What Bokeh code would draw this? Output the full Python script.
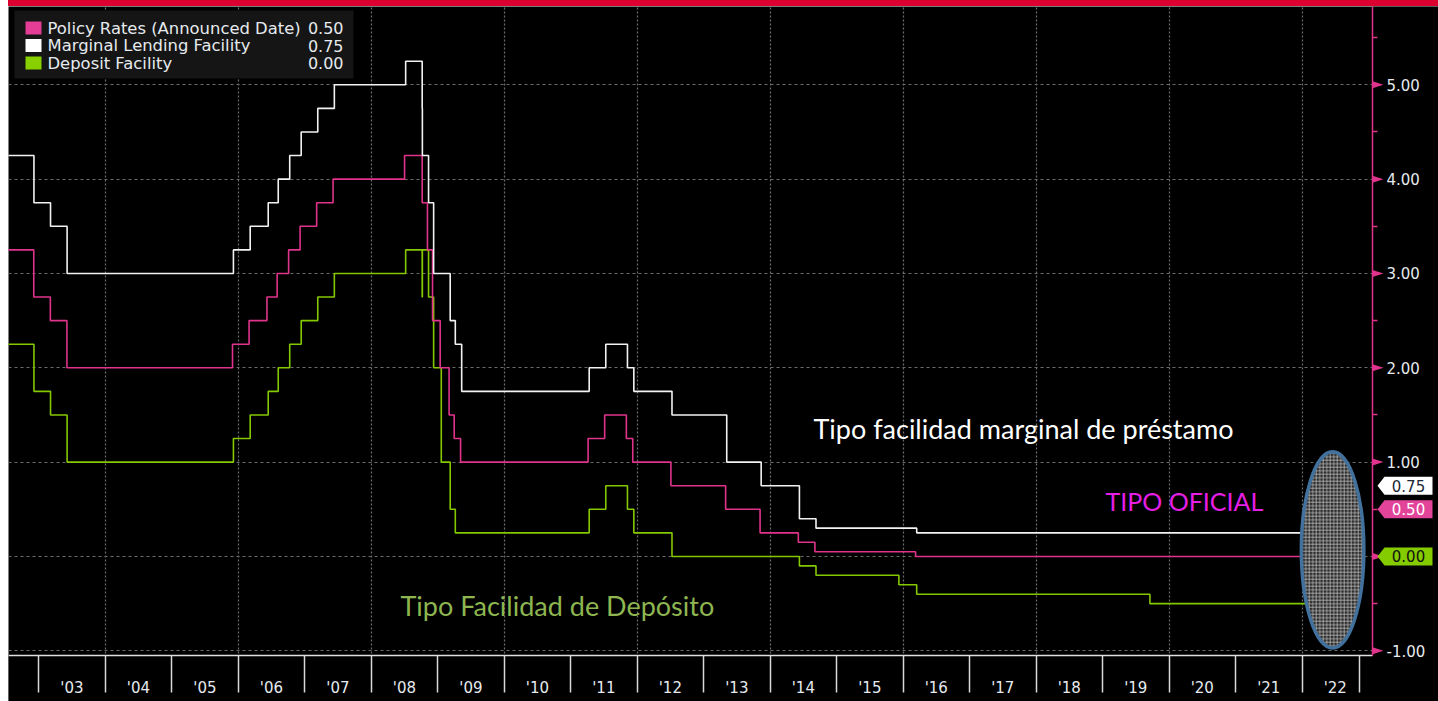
import numpy as np
import pandas as pd
from bokeh.plotting import figure
from bokeh.models import (Range1d, FixedTicker, Label, PolyAnnotation, BoxAnnotation,
                          NumeralTickFormatter, Div)
from bokeh.layouts import column
from bokeh.embed import file_html
from bokeh.resources import INLINE

# ---------------- data (ECB rates, %) ----------------
policy_dates = ["2001-11-08", "2002-12-05", "2003-03-06", "2003-06-05", "2005-12-01",
                "2006-03-02", "2006-06-08", "2006-08-03", "2006-10-05", "2006-12-07",
                "2007-03-08", "2007-06-06", "2008-07-03", "2008-10-08", "2008-11-06",
                "2008-12-04", "2009-01-15", "2009-03-05", "2009-04-02", "2009-05-07",
                "2011-04-07", "2011-07-07", "2011-11-03", "2011-12-08", "2012-07-05",
                "2013-05-02", "2013-11-07", "2014-06-05", "2014-09-04", "2016-03-10",
                "2022-07-21", "2022-10-14"]
policy_rates = [3.25, 2.75, 2.50, 2.00, 2.25, 2.50, 2.75, 3.00, 3.25, 3.50,
                3.75, 4.00, 4.25, 3.75, 3.25, 2.50, 2.00, 1.50, 1.25, 1.00,
                1.25, 1.50, 1.25, 1.00, 0.75, 0.50, 0.25, 0.15, 0.05, 0.00,
                0.50, 0.50]

mlf_dates = ["2001-11-09", "2002-12-06", "2003-03-07", "2003-06-06", "2005-12-06",
             "2006-03-08", "2006-06-15", "2006-08-09", "2006-10-11", "2006-12-13",
             "2007-03-14", "2007-06-13", "2008-07-09", "2008-10-08", "2008-10-09",
             "2008-11-12", "2008-12-10", "2009-03-11", "2009-04-08", "2009-05-13",
             "2011-04-13", "2011-07-13", "2011-11-09", "2011-12-14", "2012-07-11",
             "2013-05-08", "2013-11-13", "2014-06-11", "2014-09-10", "2016-03-16",
             "2022-07-27", "2022-10-14"]
mlf_rates = [4.25, 3.75, 3.50, 3.00, 3.25, 3.50, 3.75, 4.00, 4.25, 4.50,
             4.75, 5.00, 5.25, 4.75, 4.25, 3.75, 3.00, 2.50, 2.25, 1.75,
             2.00, 2.25, 2.00, 1.75, 1.50, 1.00, 0.75, 0.40, 0.30, 0.25,
             0.75, 0.75]

df_dates = ["2001-11-09", "2002-12-06", "2003-03-07", "2003-06-06", "2005-12-06",
            "2006-03-08", "2006-06-15", "2006-08-09", "2006-10-11", "2006-12-13",
            "2007-03-14", "2007-06-13", "2008-07-09", "2008-10-08", "2008-10-09",
            "2008-11-12", "2008-12-10", "2009-01-21", "2009-03-11", "2009-04-08",
            "2011-04-13", "2011-07-13", "2011-11-09", "2011-12-14", "2012-07-11",
            "2014-06-11", "2014-09-10", "2015-12-09", "2016-03-16", "2019-09-18",
            "2022-07-27", "2022-10-14"]
df_rates = [2.25, 1.75, 1.50, 1.00, 1.25, 1.50, 1.75, 2.00, 2.25, 2.50,
            2.75, 3.00, 3.25, 2.75, 3.25, 2.75, 2.00, 1.00, 0.50, 0.25,
            0.50, 0.75, 0.50, 0.25, 0.00, -0.10, -0.20, -0.30, -0.40, -0.50,
            0.00, 0.00]

series_names = ["Policy Rates (Announced Date)", "Marginal Lending Facility", "Deposit Facility"]
year_starts = list(range(2003, 2023))
year_labels = ["'03", "'04", "'05", "'06", "'07", "'08", "'09", "'10", "'11", "'12",
               "'13", "'14", "'15", "'16", "'17", "'18", "'19", "'20", "'21", "'22"]
chart_end = "2022-11-14"
y_ticks = [-1, 0, 1, 2, 3, 4, 5]

annot_marginal = "Tipo facilidad marginal de préstamo"
annot_oficial = "TIPO OFICIAL"
annot_deposito = "Tipo Facilidad de Depósito"

# ---------------- styles / layout ----------------
PINK = "#e0338c"
WHITE = "#f2f2f2"
GREEN = "#84c800"
TXT = "#e6eaee"
FONT = "DejaVu Sans"

LEFT_PAD, BAR = 8, 6
W, H = 1430, 695
RIGHT, BOTTOM = 66, 46           # room for the right scale and the year band
FW, FH = W - RIGHT, H - BOTTOM   # plotting area
X0, X1 = 2002.546, 2023.06
Y0, Y1 = -1.05, 5.83
XPP = (X1 - X0) / FW
YPP = (Y1 - Y0) / FH
XR = X0 + W * XPP                # canvas right edge in data units
YB = Y0 - BOTTOM * YPP           # canvas bottom edge in data units


def fx(px):
    """page x pixel -> data x"""
    return X0 + (px - LEFT_PAD) * XPP


def fy(py):
    """page y pixel -> data y"""
    return Y1 - (py - BAR) * YPP


def frac_year(dates):
    d = pd.DatetimeIndex(pd.to_datetime(dates))
    nd = np.where(d.is_leap_year, 366, 365)
    return (d.year.to_numpy() + (d.dayofyear.to_numpy() - 1) / nd).tolist()


px_policy = frac_year(policy_dates)
px_mlf = frac_year(mlf_dates)
px_df = frac_year(df_dates)
px_end = frac_year([chart_end])[0]

p = figure(width=W, height=H, x_range=Range1d(X0, XR), y_range=Range1d(YB, Y1),
           y_axis_location="right", output_backend="svg", toolbar_location=None,
           background_fill_color="black", border_fill_color="black",
           min_border=0, min_border_left=0, min_border_top=0, min_border_right=0,
           min_border_bottom=0, outline_line_color=None)

# grids
p.xgrid.ticker = FixedTicker(ticks=[y for y in year_starts if y % 2 == 0])
p.xgrid.grid_line_color = "#6e6e6e"
p.xgrid.grid_line_dash = "2 2"
p.xgrid.grid_line_width = 1.2
p.ygrid.ticker = FixedTicker(ticks=y_ticks)
p.ygrid.grid_line_color = "#6a6a6a"
p.ygrid.grid_line_dash = "3 3"
p.ygrid.grid_line_width = 1.2

# black bands for the scale area and the year band (hide grid lines there)
p.add_layout(BoxAnnotation(left=X1, fill_color="black", fill_alpha=1, line_color=None, level="underlay"))
p.add_layout(BoxAnnotation(top=Y0, fill_color="black", fill_alpha=1, line_color=None, level="underlay"))

# bottom axis: separators at year starts (minor ticks), labels at mid-year
mids = [y + 0.5 for y in year_starts]
xa = p.xaxis[0]
xa.fixed_location = Y0
xa.bounds = (X0, X1)
xa.ticker = FixedTicker(ticks=mids, minor_ticks=year_starts + [px_end])
xa.major_label_overrides = {m: lab for m, lab in zip(mids, year_labels)}
xa.axis_line_color = "#e0e0e0"
xa.axis_line_width = 1.5
xa.major_tick_out = 0
xa.major_tick_in = 0
xa.minor_tick_out = 37
xa.minor_tick_in = 0
xa.minor_tick_line_color = "#d8d8d8"
xa.minor_tick_line_width = 1.5
xa.major_label_standoff = -14
xa.major_label_text_color = TXT
xa.major_label_text_font = FONT
xa.major_label_text_font_size = "15px"

# right axis
ya = p.yaxis[0]
ya.fixed_location = X1
ya.bounds = (Y0, Y1)
ya.ticker = FixedTicker(ticks=y_ticks, minor_ticks=[t + 0.5 for t in y_ticks])
ya.formatter = NumeralTickFormatter(format="0.00")
ya.axis_line_color = PINK
ya.axis_line_width = 1.5
ya.major_tick_out = 0
ya.major_tick_in = 0
ya.minor_tick_out = 5
ya.minor_tick_in = 0
ya.minor_tick_line_color = PINK
ya.minor_tick_line_width = 1.5
ya.major_label_standoff = 9
ya.major_label_text_color = TXT
ya.major_label_text_font = FONT
ya.major_label_text_font_size = "15px"

# tick triangles on right axis
for t in y_ticks:
    p.add_layout(PolyAnnotation(xs=[X1, X1 + 11 * XPP, X1], ys=[t + 3.5 * YPP, t, t - 3.5 * YPP],
                                fill_color=PINK, fill_alpha=1, line_color=None))

# series
p.step(px_df, df_rates, mode="after", line_color=GREEN, line_width=1.6)
p.step(px_policy, policy_rates, mode="after", line_color=PINK, line_width=1.6)
p.step(px_mlf, mlf_rates, mode="after", line_color=WHITE, line_width=1.6)

# highlight ellipse over 2022
p.ellipse(x=[2022.46], y=[0.07], width=[0.94], height=[2.08],
          fill_color="#2c2c2c", hatch_pattern="+", hatch_color="#c8c8c8",
          hatch_scale=3.5, hatch_weight=0.7, line_color="#41719c", line_width=3.5)

# annotations
p.add_layout(Label(x=fx(813), y=fy(428), text=annot_marginal, text_color="#ffffff",
                   text_font="Lato", text_font_size="27px", text_baseline="middle"))
p.add_layout(Label(x=fx(1105), y=fy(500), text=annot_oficial, text_color="#e61ee6",
                   text_font="Lato", text_font_size="25px", text_baseline="middle"))
p.add_layout(Label(x=fx(400), y=fy(605), text=annot_deposito, text_color="#8db650",
                   text_font="Lato", text_font_size="27px", text_baseline="middle"))

# last-value tags on right axis
tags = [(mlf_rates[-1], "#ffffff", "#1c2836"),
        (policy_rates[-1], "#e2449a", "#ffffff"),
        (df_rates[-1], "#84cc00", "#111111")]
for v, bg, fg in tags:
    p.add_layout(PolyAnnotation(
        xs=[X1 + 5 * XPP, X1 + 12 * XPP, X1 + 60 * XPP, X1 + 60 * XPP, X1 + 12 * XPP],
        ys=[v, v + 9 * YPP, v + 9 * YPP, v - 9 * YPP, v - 9 * YPP],
        fill_color=bg, fill_alpha=1, line_color=None))
    p.add_layout(Label(x=X1 + 36 * XPP, y=v, text=f"{v:.2f}", text_color=fg,
                       text_font=FONT, text_font_size="15px",
                       text_align="center", text_baseline="middle"))

# legend panel (top-left): swatch, series name, last value
p.add_layout(BoxAnnotation(left=fx(14), right=fx(353), top=fy(10), bottom=fy(78),
                           fill_color="#151515", fill_alpha=1, line_color=None))
sw_colors = ["#e43d96", "#ffffff", "#88d000"]
last_vals = [policy_rates[-1], mlf_rates[-1], df_rates[-1]]
for i, (name, c, v) in enumerate(zip(series_names, sw_colors, last_vals)):
    cy = 27.5 + 17.5 * i
    p.add_layout(BoxAnnotation(left=fx(25), right=fx(41), top=fy(cy - 6.5), bottom=fy(cy + 6.5),
                               fill_color=c, fill_alpha=1, line_color=None))
    p.add_layout(Label(x=fx(47), y=fy(cy), text=name, text_color=TXT, text_font=FONT,
                       text_font_size="16.4px", text_baseline="middle"))
    p.add_layout(Label(x=fx(343), y=fy(cy), text=f"{v:.2f}", text_color=TXT, text_font=FONT,
                       text_font_size="16px", text_align="right", text_baseline="middle"))

bar = Div(text="", width=W, height=BAR, margin=0,
          styles={"background-color": "#dc0030"})
layout = column(bar, p, spacing=0, margin=(0, 0, 0, LEFT_PAD))

open("out.html", "w").write(file_html(layout, INLINE))
